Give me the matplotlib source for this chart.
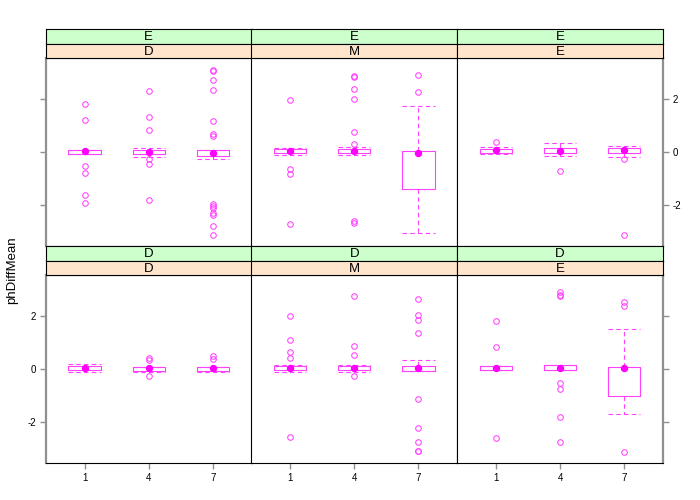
import matplotlib
matplotlib.use("Agg")
import matplotlib.pyplot as plt

plt.rcParams['font.family'] = ['Liberation Sans', 'DejaVu Sans']

x_levels = ['1', '4', '7']
outer_levels = ['E', 'D']          # green strips (rows, top to bottom)
inner_levels = ['D', 'M', 'E']     # orange strips (columns)

# ---- top row: outer = E ----
ED_q1 = [-0.06, -0.06, -0.14]
ED_med = [0.05, 0.03, -0.01]
ED_q3 = [0.10, 0.08, 0.10]
ED_wlo = [-0.06, -0.18, -0.25]
ED_whi = [0.10, 0.15, 0.10]
ED_out = [[1.82, 1.21, -0.50, -0.79, -1.62, -1.90],
          [2.33, 1.35, 0.84, -0.25, -0.43, -1.80],
          [3.11, 3.08, 2.74, 2.37, 1.17, 0.68, 0.63, -1.94, -2.01, -2.09,
           -2.28, -2.38, -2.80, -3.12]]

EM_q1 = [-0.02, -0.02, -1.37]
EM_med = [0.06, 0.05, -0.03]
EM_q3 = [0.13, 0.13, 0.06]
EM_wlo = [-0.09, -0.11, -3.06]
EM_whi = [0.15, 0.20, 1.75]
EM_out = [[1.96, -0.64, -0.81, -2.72],
          [2.87, 2.83, 2.40, 2.01, 0.77, 0.31, -2.58, -2.67],
          [2.92, 2.29]]

EE_q1 = [-0.02, -0.02, -0.02]
EE_med = [0.08, 0.05, 0.08]
EE_q3 = [0.13, 0.16, 0.15]
EE_wlo = [-0.08, -0.13, -0.16]
EE_whi = [0.19, 0.37, 0.25]
EE_out = [[0.38], [-0.69], [-0.26, -3.12]]

# ---- bottom row: outer = D ----
DD_q1 = [-0.03, -0.06, -0.06]
DD_med = [0.05, 0.04, 0.04]
DD_q3 = [0.12, 0.10, 0.10]
DD_wlo = [-0.10, -0.12, -0.12]
DD_whi = [0.20, 0.10, 0.10]
DD_out = [[], [0.43, 0.36, -0.25], [0.49, 0.39]]

DM_q1 = [-0.03, -0.02, -0.08]
DM_med = [0.05, 0.05, 0.05]
DM_q3 = [0.12, 0.13, 0.12]
DM_wlo = [-0.09, -0.12, -0.08]
DM_whi = [0.14, 0.14, 0.33]
DM_out = [[2.00, 1.10, 0.63, 0.44, -2.58],
          [2.78, 0.87, 0.53, -0.26],
          [2.67, 2.05, 1.85, 1.37, -1.13, -2.21, -2.76, -3.09, -3.11]]

DE_q1 = [-0.03, -0.05, -1.03]
DE_med = [0.05, 0.05, 0.05]
DE_q3 = [0.13, 0.15, 0.10]
DE_wlo = [-0.04, -0.05, -1.71]
DE_whi = [0.13, 0.15, 1.51]
DE_out = [[1.81, 0.83, -2.60],
          [2.90, 2.82, 2.75, -0.53, -0.75, -1.80, -2.75],
          [2.55, 2.38, -3.12]]

panels = {
    ('E', 'D'): (ED_q1, ED_med, ED_q3, ED_wlo, ED_whi, ED_out),
    ('E', 'M'): (EM_q1, EM_med, EM_q3, EM_wlo, EM_whi, EM_out),
    ('E', 'E'): (EE_q1, EE_med, EE_q3, EE_wlo, EE_whi, EE_out),
    ('D', 'D'): (DD_q1, DD_med, DD_q3, DD_wlo, DD_whi, DD_out),
    ('D', 'M'): (DM_q1, DM_med, DM_q3, DM_wlo, DM_whi, DM_out),
    ('D', 'E'): (DE_q1, DE_med, DE_q3, DE_wlo, DE_whi, DE_out),
}

W, H = 700, 500
fig = plt.figure(figsize=(7, 5), dpi=100)

col_x = [46, 251.5, 457, 663]
row_panel = [(58.3, 246.3), (275.3, 463)]
row_strip = [(29.3, 43.7, 58.3), (246.3, 260.7, 275.3)]

MAG = '#FF00FF'
LMAG = '#FF40FF'
GRAY = '#909090'

def fx(px):
    return px / W

def fy(py):
    return 1 - py / H

for r, outer in enumerate(outer_levels):
    for c, inner in enumerate(inner_levels):
        x0, x1 = col_x[c], col_x[c + 1]
        top, bot = row_panel[r]
        ax = fig.add_axes([fx(x0), fy(bot), fx(x1 - x0), (bot - top) / H])
        q1, med, q3, wlo, whi, out = panels[(outer, inner)]
        stats = []
        for i in range(3):
            stats.append(dict(med=med[i], q1=q1[i], q3=q3[i],
                              whislo=wlo[i], whishi=whi[i], fliers=out[i]))
        pos = [1, 2, 3]
        ax.bxp(stats, positions=pos, widths=0.5, capwidths=0.5,
               showcaps=True, showfliers=True,
               boxprops=dict(color=LMAG, linewidth=0.8),
               whiskerprops=dict(color=LMAG, linewidth=0.8, linestyle=(0, (4, 3))),
               capprops=dict(color=LMAG, linewidth=0.8, linestyle=(0, (4, 3))),
               medianprops=dict(linewidth=0),
               flierprops=dict(marker='o', markersize=4, markerfacecolor='none',
                               markeredgecolor=LMAG, markeredgewidth=0.75,
                               linestyle='none'))
        ax.plot(pos, med, 'o', color=MAG, markersize=4.3, zorder=5)
        ax.set_xlim(0.4, 3.6)
        ax.set_ylim(-3.55, 3.55)
        for s in ax.spines.values():
            s.set_color('black')
            s.set_linewidth(0.8)
        if c == 0:
            ax.spines['left'].set_color(GRAY)
            ax.spines['left'].set_linewidth(1.6)
        if c == 2:
            ax.spines['right'].set_color(GRAY)
            ax.spines['right'].set_linewidth(1.6)
        ax.set_yticks([-2, 0, 2])
        ax.set_yticklabels(['-2', '0', '2'])
        ax.tick_params(axis='both', labelsize=7, color=GRAY, length=4,
                       width=1, direction='out', pad=3)
        ax.tick_params(axis='y', left=False, right=False,
                       labelleft=False, labelright=False)
        if r == 0:
            if c == 0:
                ax.tick_params(axis='y', left=True)
            if c == 2:
                ax.tick_params(axis='y', right=True, labelright=True)
        else:
            if c == 0:
                ax.tick_params(axis='y', left=True, labelleft=True)
            if c == 2:
                ax.tick_params(axis='y', right=True)
        ax.set_xticks(pos)
        if r == 1:
            ax.set_xticklabels(x_levels)
            ax.tick_params(axis='x', bottom=True, labelbottom=True)
        else:
            ax.tick_params(axis='x', bottom=False, labelbottom=False)

        # strips
        s_top, s_mid, s_bot = row_strip[r]
        for (ya, yb, col, lab) in [(s_top, s_mid, '#CCFFCC', outer),
                                   (s_mid, s_bot, '#FFE5CC', inner)]:
            sax = fig.add_axes([fx(x0), fy(yb), fx(x1 - x0), (yb - ya) / H])
            sax.set_facecolor(col)
            sax.set_xticks([])
            sax.set_yticks([])
            for s in sax.spines.values():
                s.set_color('black')
                s.set_linewidth(0.8)
            sax.text(0.5, 0.45, lab, ha='center', va='center', fontsize=9.5,
                     transform=sax.transAxes)

fig.text(fx(12), fy(270), 'phDiffMean', rotation=90, ha='center',
         va='center', fontsize=9.5)

fig.savefig('out.png', dpi=100)
